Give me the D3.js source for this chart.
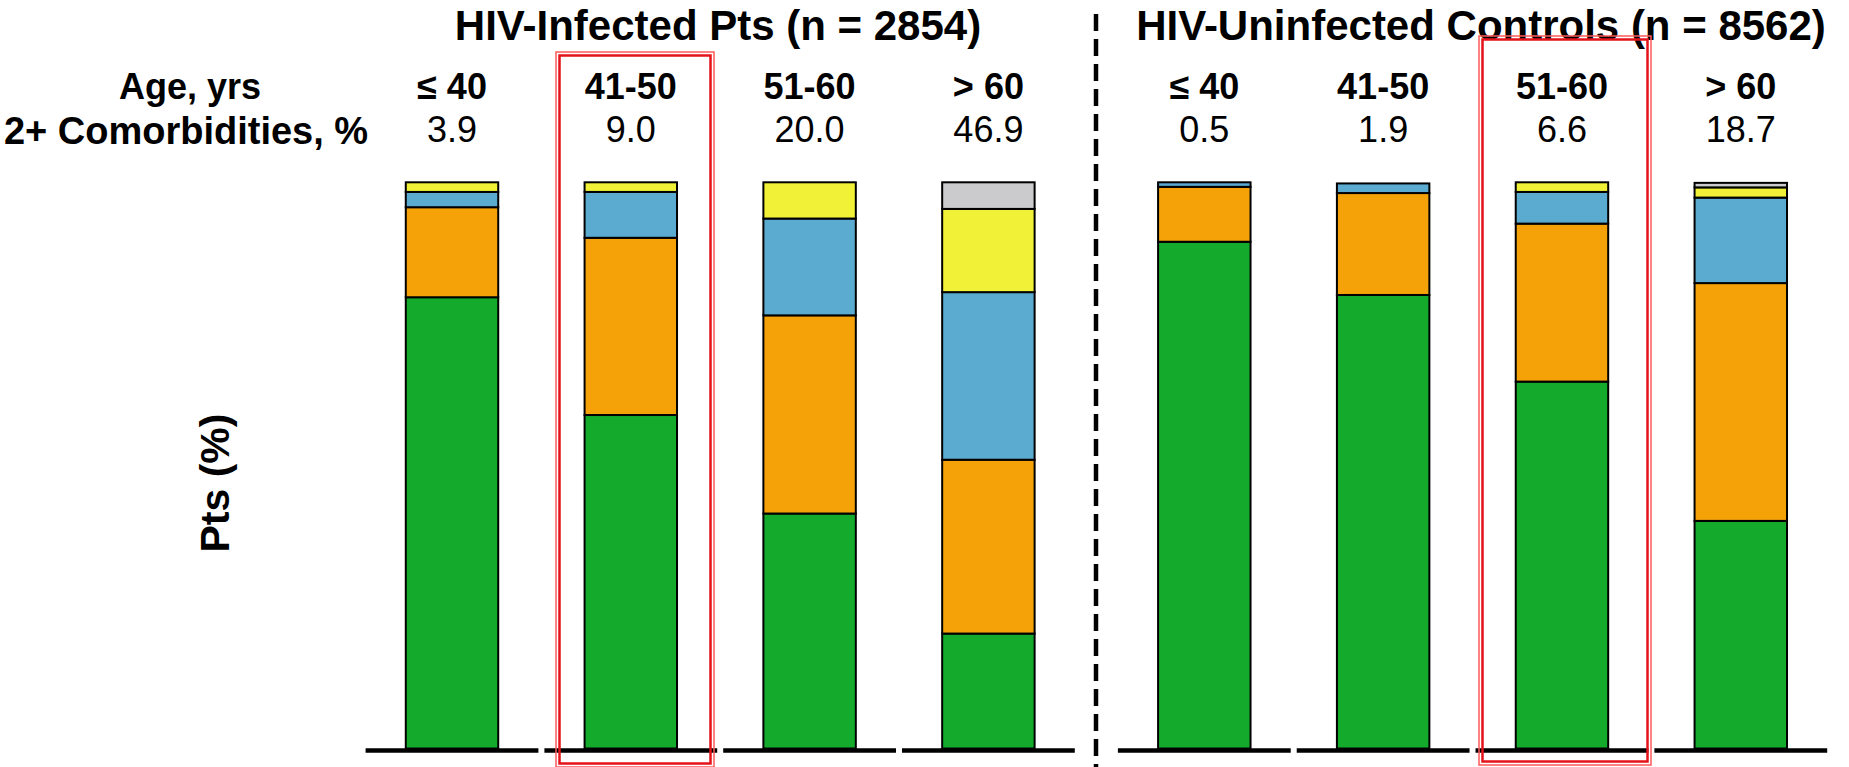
<!DOCTYPE html>
<html>
<head>
<meta charset="utf-8">
<script src="https://cdn.jsdelivr.net/npm/d3@7"></script>
<style>
  body { margin: 0; background: #fff; }
  svg text { font-family: "Liberation Sans", Arial, sans-serif; fill: #000; }
</style>
</head>
<body>
<div id="chart"></div>
<script>
// age groups and the "2+ comorbidities" row
var ageGroups = ["≤ 40", "41-50", "51-60", "> 60"];
var hivComorb = ["3.9", "9.0", "20.0", "46.9"];
var ctlComorb = ["0.5", "1.9", "6.6", "18.7"];

// stacked shares (%), bottom to top
var hivGreen  = [79.7, 58.9, 41.5, 20.3];
var hivOrange = [15.9, 31.3, 35.0, 30.7];
var hivBlue   = [2.7, 8.1, 17.1, 29.6];
var hivYellow = [1.7, 1.7, 6.4, 14.7];
var hivGray   = [0, 0, 0, 4.7];

var ctlGreen  = [89.5, 80.1, 64.8, 40.2];
var ctlOrange = [9.7, 18.0, 27.9, 42.0];
var ctlBlue   = [0.8, 1.7, 5.6, 15.1];
var ctlYellow = [0, 0, 1.7, 1.8];
var ctlGray   = [0, 0, 0, 0.8];

var keys = ["green", "orange", "blue", "yellow", "gray"];
var colors = ["#14ab2c", "#f5a209", "#5baad0", "#f1f238", "#cbcbcd"];

var W = 1849, H = 767;
var svg = d3.select("#chart").append("svg")
    .attr("width", W).attr("height", H);

var y = d3.scaleLinear().domain([0, 100]).range([748.5, 182.3]);
var color = d3.scaleOrdinal().domain(keys).range(colors);

function rows(g, o, b, yl, gr) {
    return ageGroups.map(function (a, i) {
        return { age: a, green: g[i], orange: o[i], blue: b[i], yellow: yl[i], gray: gr[i] };
    });
}

var panels = [
    { title: "HIV-Infected Pts (n = 2854)", titleX: 718, range: [362.6, 1077.8],
      data: rows(hivGreen, hivOrange, hivBlue, hivYellow, hivGray), comorb: hivComorb },
    { title: "HIV-Uninfected Controls (n = 8562)", titleX: 1481, range: [1114.9, 1830.2],
      data: rows(ctlGreen, ctlOrange, ctlBlue, ctlYellow, ctlGray), comorb: ctlComorb }
];

var stack = d3.stack().keys(keys);

panels.forEach(function (p) {
    var x = d3.scaleBand().domain(ageGroups).range(p.range).padding(0);
    var bw = x.bandwidth() * 0.517;
    var g = svg.append("g");

    // stacked bars
    g.selectAll("g.layer")
        .data(stack(p.data))
        .enter().append("g")
        .attr("class", "layer")
        .attr("fill", function (d) { return color(d.key); })
        .selectAll("rect")
        .data(function (d) { return d.filter(function (s) { return s[1] - s[0] > 0; }); })
        .enter().append("rect")
        .attr("x", function (d) { return x(d.data.age) + (x.bandwidth() - bw) / 2; })
        .attr("y", function (d) { return y(d[1]); })
        .attr("width", bw)
        .attr("height", function (d) { return y(d[0]) - y(d[1]); })
        .attr("stroke", "#000")
        .attr("stroke-width", 2);

    // baseline, one segment per category
    g.selectAll("line.base")
        .data(ageGroups)
        .enter().append("line")
        .attr("class", "base")
        .attr("x1", function (d) { return x(d) + 3; })
        .attr("x2", function (d) { return x(d) + x.bandwidth() - 3; })
        .attr("y1", 750.4).attr("y2", 750.4)
        .attr("stroke", "#000")
        .attr("stroke-width", 4.5);

    // header rows
    g.selectAll("text.age")
        .data(ageGroups)
        .enter().append("text")
        .attr("x", function (d) { return x(d) + x.bandwidth() / 2; })
        .attr("y", 99)
        .attr("text-anchor", "middle")
        .style("font-size", "36px")
        .style("font-weight", "bold")
        .text(function (d) { return d; });

    g.selectAll("text.val")
        .data(p.comorb)
        .enter().append("text")
        .attr("x", function (d, i) { return x(ageGroups[i]) + x.bandwidth() / 2; })
        .attr("y", 142)
        .attr("text-anchor", "middle")
        .style("font-size", "36px")
        .text(function (d) { return d; });

    svg.append("text")
        .attr("x", p.titleX).attr("y", 40)
        .attr("text-anchor", "middle")
        .style("font-size", "42px")
        .style("font-weight", "bold")
        .text(p.title);
});

// row labels on the left
svg.append("text").attr("x", 190).attr("y", 99)
    .attr("text-anchor", "middle")
    .style("font-size", "36px").style("font-weight", "bold")
    .text("Age, yrs");
svg.append("text").attr("x", 186).attr("y", 144)
    .attr("text-anchor", "middle")
    .style("font-size", "38px").style("font-weight", "bold")
    .text("2+ Comorbidities, %");

// y label
svg.append("text")
    .attr("transform", "translate(229,483) rotate(-90)")
    .attr("text-anchor", "middle")
    .style("font-size", "41px").style("font-weight", "bold")
    .text("Pts (%)");

// dashed divider
svg.append("line")
    .attr("x1", 1096).attr("x2", 1096)
    .attr("y1", 14).attr("y2", 767)
    .attr("stroke", "#000")
    .attr("stroke-width", 4.5)
    .attr("stroke-dasharray", "17,8");

// red highlight boxes (double line)
var boxes = [[556, 52, 714, 767], [1479, 36, 1651, 765]];
boxes.forEach(function (b) {
    svg.append("rect")
        .attr("x", b[0]).attr("y", b[1])
        .attr("width", b[2] - b[0]).attr("height", b[3] - b[1])
        .attr("fill", "none").attr("stroke", "#ff5a5a").attr("stroke-width", 1.5);
    svg.append("rect")
        .attr("x", b[0] + 3.5).attr("y", b[1] + 3.5)
        .attr("width", b[2] - b[0] - 7).attr("height", b[3] - b[1] - 7)
        .attr("fill", "none").attr("stroke", "#e5121a").attr("stroke-width", 2.5);
});
</script>
</body>
</html>
